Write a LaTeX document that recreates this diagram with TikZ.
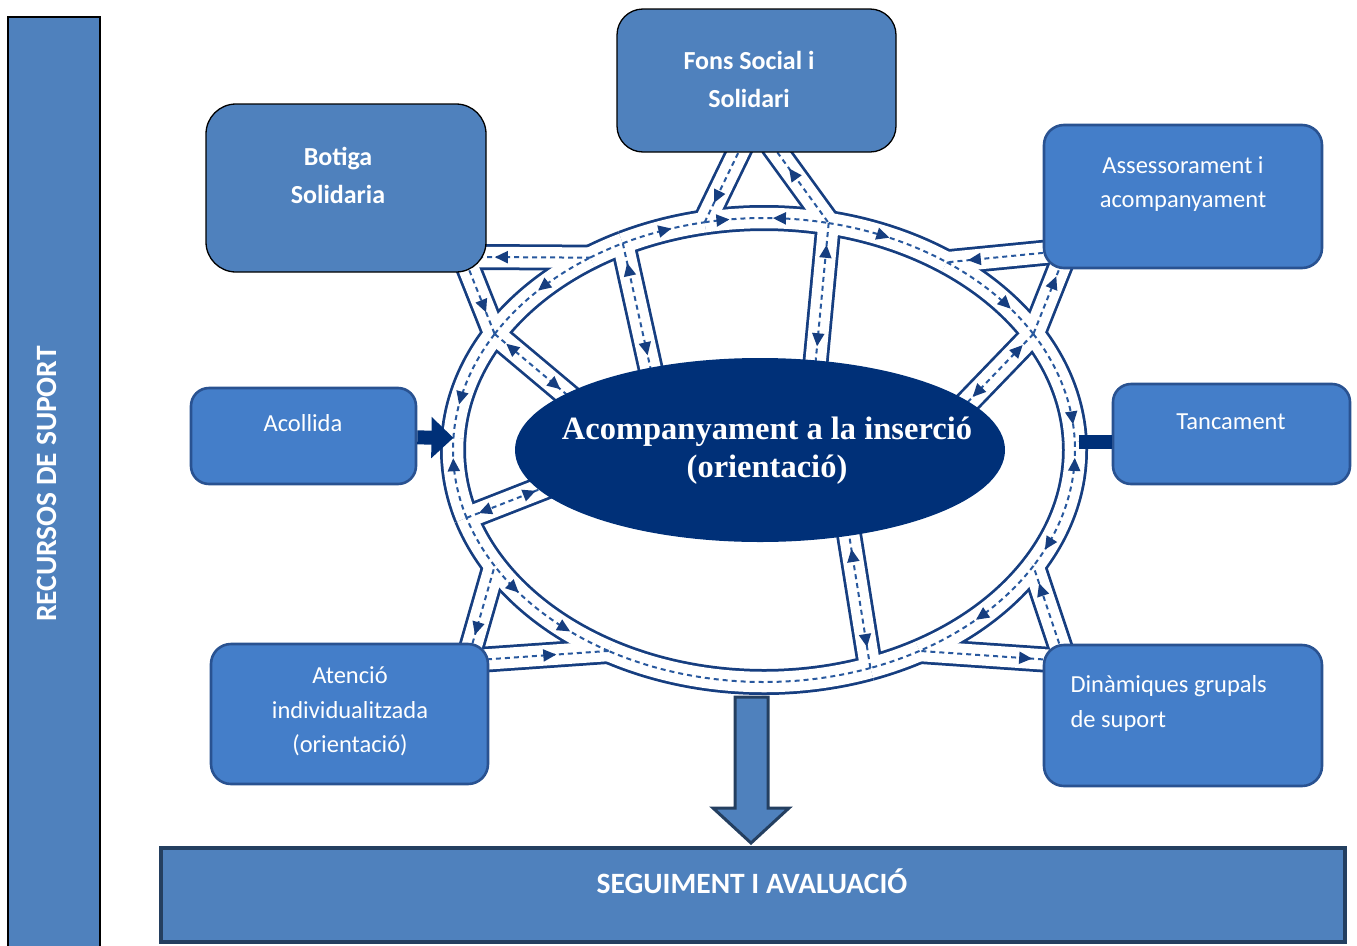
\documentclass[tikz,border=0pt]{standalone}
\usepackage{fontspec}
\setmainfont{Carlito}
\newfontfamily\coreserif{Liberation Serif}
\usetikzlibrary{arrows.meta,calc,shapes.geometric,decorations.markings}
\definecolor{boxblue}{RGB}{79,129,189}
\definecolor{phaseblue}{RGB}{68,126,201}
\definecolor{phaseedge}{RGB}{41,82,145}
\definecolor{darkedge}{RGB}{36,63,96}
\definecolor{corenavy}{RGB}{0,48,120}
\definecolor{roadnavy}{RGB}{22,62,128}
\definecolor{midblue}{RGB}{40,88,158}

\pgfdeclarelayer{roadbed}
\pgfdeclarelayer{roadfill}
\pgfsetlayers{roadbed,roadfill,main}

\tikzset{
  roadedge/.style={draw=roadnavy, line width=26pt},
  roadwhite/.style={draw=white, line width=20.5pt},
  roadmid/.style={draw=midblue, line width=2pt, dash pattern=on 5pt off 4pt},
  arr/.style={postaction={decorate,decoration={markings,mark=at position #1 with {\arrow[roadnavy]{Triangle[length=13pt,width=12pt]}}}}},
  rarr/.style={postaction={decorate,decoration={markings,mark=at position #1 with {\arrowreversed[roadnavy]{Triangle[length=13pt,width=12pt]}}}}},
  solidbox/.style={rectangle, draw=black, line width=1.3pt, fill=boxblue, rounded corners=26pt},
  phasebox/.style={rectangle, draw=phaseedge, line width=2.6pt, fill=phaseblue, rounded corners=20pt},
  boldtext/.style={text=white, align=center, font=\bfseries\fontsize{26}{38}\selectfont},
  bigtext/.style={text=white, align=center, font=\bfseries\fontsize{29.5}{36}\selectfont},
  plaintext/.style={text=white, align=center, font=\fontsize{24.5}{34.5}\selectfont},
  link/.style={draw=corenavy, line width=14pt}
}

% one road = dark bed, white lane, dashed middle line
\newcommand{\road}[2][]{%
  \begin{pgfonlayer}{roadbed}\draw[roadedge] #2;\end{pgfonlayer}%
  \begin{pgfonlayer}{roadfill}\draw[roadwhite] #2;\end{pgfonlayer}%
  \draw[roadmid,#1] #2;}
\newcommand{\ringarc}[3][]{\road[#1]{($(C)+(#2:311 and 232)$) arc[start angle=#2, end angle=#3, x radius=311, y radius=232]}}

\begin{document}
\begin{tikzpicture}[x=1pt, y=-1pt]
  \useasboundingbox (0,0) rectangle (1357,945);

  % Ring road
  \coordinate (C) at (764,450);
  \foreach \t in {30,60,70,120,150,163,183,210,236,243,259,282,306,330,358}
    \coordinate (r\t) at ($(C)+(\t:311 and 232)$);

  \ringarc[rarr=0.12, arr=0.85]{-2}{30}
  \ringarc[arr=0.55]{30}{60}
  \ringarc{60}{70}
  \ringarc{70}{120}
  \ringarc[rarr=0.3, rarr=0.75]{120}{150}
  \ringarc{150}{163}
  \ringarc[arr=0.75]{163}{183}
  \ringarc[rarr=0.3]{183}{210}
  \ringarc[rarr=0.5]{210}{236}
  \ringarc{236}{243}
  \ringarc[arr=0.6]{243}{259}
  \ringarc[arr=0.2, rarr=0.55]{259}{282}
  \ringarc[arr=0.5]{282}{306}
  \ringarc[arr=0.7]{306}{330}
  \ringarc[arr=0.85]{330}{358}

  % Spokes to the centre
  \road[rarr=0.15, arr=0.85]{(r210) -- (572,399)}
  \road[rarr=0.15, arr=0.85]{(r243) -- (652,375)}
  \road[rarr=0.15, arr=0.85]{(r282) -- (815,368)}
  \road[rarr=0.15, arr=0.85]{(r330) -- (962,408)}
  \road[rarr=0.15, arr=0.85]{(r163) -- (548,486)}
  \road[rarr=0.15, arr=0.85]{(r70) -- (848,528)}

  % Roads to the boxes
  \road[arr=0.7]{(466,262) -- (r210)}
  \road[rarr=0.15]{(478,257) -- (r236)}
  \road[arr=0.75]{(742,145) -- (r259)}
  \road[rarr=0.3]{(772,145) -- (r282)}
  \road[arr=0.8]{(1052,252) -- (r306)}
  \road[rarr=0.2]{(1062,262) -- (r330)}
  \road[arr=0.8]{(1062,652) -- (r30)}
  \road[rarr=0.15]{(1052,660) -- (r60)}
  \road[rarr=0.2]{(470,652) -- (r150)}
  \road[arr=0.6]{(478,660) -- (r120)}

  % Centre
  \node[ellipse, fill=corenavy, minimum width=490pt, minimum height=184pt, inner sep=0pt] (core) at (760,450) {};
  \node[text=white, align=center, font=\coreserif\bfseries\fontsize{32.5}{38}\selectfont]
    (core-t) at (767,451) {Acompanyament a la inserció\\(orientació)};

  % Boxes
  \node[solidbox, minimum width=279pt, minimum height=143pt] (fons) at (756.5,80.5) {};
  \node[solidbox, minimum width=280pt, minimum height=168pt, rounded corners=30pt] (botiga) at (346,188) {};
  \node[phasebox, minimum width=278pt, minimum height=143pt] (assess) at (1183,196.5) {};
  \node[phasebox, minimum width=225pt, minimum height=96pt, rounded corners=18pt] (acoll) at (303.5,436) {};
  \node[phasebox, minimum width=237pt, minimum height=100pt, rounded corners=18pt] (tanc) at (1231.5,434) {};
  \node[phasebox, minimum width=277pt, minimum height=140pt] (atenc) at (349.5,714) {};
  \node[phasebox, minimum width=278pt, minimum height=141pt] (dinam) at (1183,715.5) {};

  \node[boldtext] (fons-t) at (749,79) {Fons Social i\\Solidari};
  \node[boldtext] (botiga-t) at (338,175) {Botiga\\Solidaria};
  \node[plaintext] (assess-t) at (1183,184) {Assessorament i\\acompanyament};
  \node[plaintext] (acoll-t) at (303,423) {Acollida};
  \node[plaintext] (tanc-t) at (1231,422) {Tancament};
  \node[plaintext] (atenc-t) at (350,711.5) {Atenció\\individualitzada\\(orientació)};
  \node[plaintext, align=left, anchor=west] (dinam-t) at (1067,703.5) {Dinàmiques grupals\\de suport};

  % Side bar and bottom bar
  \node[rectangle, draw=black, line width=1.5pt, fill=boxblue, minimum width=92pt, minimum height=930pt] (recursos) at (54,482) {};
  \node[bigtext, rotate=90] (recursos-t) at (47,484) {RECURSOS DE SUPORT};
  \node[rectangle, draw=darkedge, line width=4pt, fill=boxblue, minimum width=1184pt, minimum height=94pt] (seguim) at (753,895) {};
  \node[bigtext] (seguim-t) at (752,881) {SEGUIMENT I AVALUACIÓ};

  % Links
  \draw[link, -{Triangle[length=22pt,width=40pt]}] (acoll) -- (r183);
  \draw[link] ($(r358)+(4,0)$) -- (r358 -| tanc.west);
  \draw[draw=darkedge, line width=3pt, fill=boxblue, line join=miter]
    (735,697) -- (768,697) -- (768,808) -- (789,808) -- (751,843) -- (713,808) -- (735,808) -- cycle;
\end{tikzpicture}
\end{document}
